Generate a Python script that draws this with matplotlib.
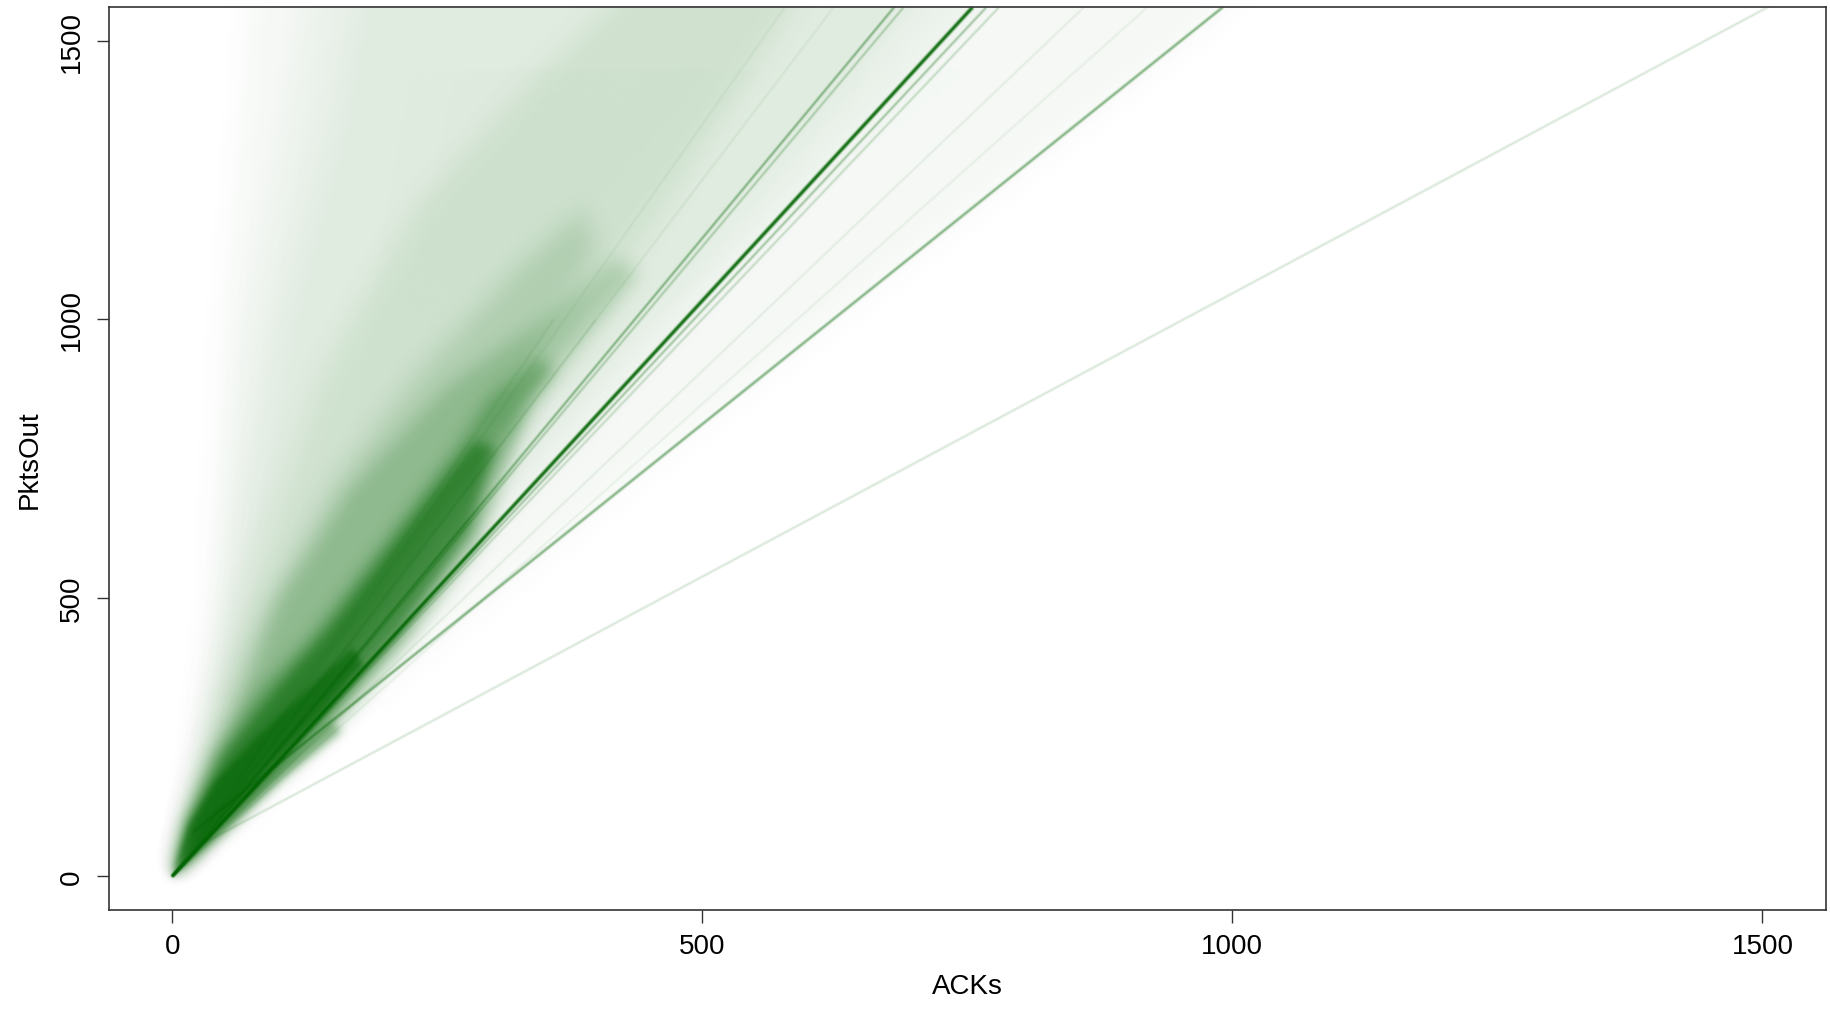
import numpy as np
import matplotlib
matplotlib.use("Agg")
import matplotlib.pyplot as plt
from matplotlib.patches import Polygon, Rectangle

plt.rcParams['font.family'] = ['Liberation Sans', 'DejaVu Sans']

# ---------------- data (ACKs, PktsOut) ----------------
# outlines of the point-cloud density levels, faint -> dense
lvl_a_x = [0, 19, 35, 48, 65, 76, 1092, 470, 150, 60, 0]
lvl_a_y = [0, 210, 500, 1000, 1365, 1700, 1700, 765, 260, 90, 0]

lvl_b_x = [0, 22, 45, 75, 110, 136, 825, 0]
lvl_b_y = [0, 210, 500, 1000, 1365, 1700, 1700, 0]

lvl_c_x = [0, 25, 57, 101, 150, 182, 763, 0]
lvl_c_y = [0, 210, 500, 1000, 1365, 1700, 1700, 0]

lvl_d_x = [0, 28, 70, 140, 230, 350, 490, 632, 430, 0]
lvl_d_y = [0, 200, 500, 900, 1200, 1450, 1700, 1700, 1100, 0]

lvl_e_x = [0, 30, 80, 150, 230, 330, 390, 400, 300, 0]
lvl_e_y = [0, 200, 450, 700, 900, 1100, 1200, 1120, 800, 0]

lvl_f_x = [0, 33, 60, 100, 170, 260, 350, 420, 440, 345, 260, 200, 120, 60, 0]
lvl_f_y = [0, 180, 300, 500, 700, 880, 1000, 1110, 1080, 860, 650, 480, 250, 110, 0]

lvl_g_x = [0, 12, 40, 80, 130, 200, 267, 300, 345, 360, 339, 321, 289, 223, 148, 80, 40, 0]
lvl_g_y = [0, 100, 220, 330, 430, 600, 765, 860, 930, 910, 855, 765, 600, 424, 256, 140, 70, 0]

lvl_h_x = [0, 15, 50, 100, 150, 210, 255, 285, 305, 280, 215, 150, 90, 45, 0]
lvl_h_y = [0, 100, 220, 340, 450, 600, 710, 780, 770, 620, 440, 290, 170, 85, 0]

lvl_i_x = [0, 15, 40, 80, 130, 170, 180, 140, 90, 45, 0]
lvl_i_y = [0, 90, 170, 250, 340, 410, 380, 290, 190, 95, 0]

lvl_j_x = [0, 40, 100, 150, 160, 100, 60, 0]
lvl_j_y = [0, 100, 200, 280, 260, 170, 100, 0]

# ridge lines of the scatter: start and end points
ray_x0 = [0, 0, 0, 0, 0, 20, 30, 0, 0, 0, 0, 0, 0]
ray_y0 = [0, 0, 0, 0, 0, 80, 60, 0, 0, 0, 0, 0, 0]
ray_x1 = [755, 768, 780, 681, 690, 991, 1505, 860, 920, 624, 578, 400, 360]
ray_y1 = [1560, 1560, 1560, 1560, 1560, 1560, 1560, 1560, 1560, 1560, 1560, 1000, 1000]

x_ticks = [0, 500, 1000, 1500]
y_ticks = [0, 500, 1000, 1500]

# ---------------- styles ----------------
green = '#006400'
green_rgb = (0.0, 100 / 255, 0.0)
level_alpha = [0.045, 0.045, 0.045, 0.08, 0.14, 0.20, 0.35, 0.55, 0.60, 0.35]
level_blur = [14, 14, 14, 14, 12, 9, 8, 6, 3, 4]
level_open_top = [True, True, True, True, False, False, False, False, False, False]
ray_lw = [2.4, 1.2, 1.0, 1.3, 1.0, 1.6, 1.0, 0.8, 0.8, 1.0, 1.0, 1.0, 1.0]
ray_alpha = [0.95, 0.45, 0.3, 0.55, 0.4, 0.55, 0.25, 0.15, 0.12, 0.10, 0.08, 0.12, 0.10]


def fft_blur(a, sigma):
    ny, nx = a.shape
    fy = np.fft.fftfreq(ny)[:, None]
    fx = np.fft.rfftfreq(nx)[None, :]
    g = np.exp(-2.0 * (np.pi * sigma) ** 2 * (fx ** 2 + fy ** 2))
    return np.fft.irfft2(np.fft.rfft2(a) * g, s=a.shape)


class BlurFilter:
    def __init__(self, sigma, rgb, open_top=False):
        self.sigma = sigma
        self.rgb = rgb
        self.open_top = open_top

    def __call__(self, im, dpi):
        pad = int(3 * self.sigma) + 2
        src = im[:, :, 3]
        a = np.pad(src, pad)
        if self.open_top:
            # region continues beyond the canvas top: extend the top row
            a[:pad, pad:-pad] = src[0][None, :]
        h = a.shape[0]
        a = np.pad(a, ((0, 2 * pad), (0, 2 * pad)))  # guard against wrap-around
        a = np.clip(fft_blur(a, self.sigma), 0, 1)[:h, :a.shape[1] - 2 * pad]
        out = np.zeros(a.shape + (4,))
        out[..., 0] = self.rgb[0]
        out[..., 1] = self.rgb[1]
        out[..., 2] = self.rgb[2]
        out[..., 3] = a
        return out, -pad, -pad


fig = plt.figure(figsize=(18.31, 10.12), dpi=100)
ax = fig.add_axes([0.0593, 0.100, 0.9380, 0.8919])

levels = [(lvl_a_x, lvl_a_y), (lvl_b_x, lvl_b_y), (lvl_c_x, lvl_c_y),
          (lvl_d_x, lvl_d_y), (lvl_e_x, lvl_e_y), (lvl_f_x, lvl_f_y),
          (lvl_g_x, lvl_g_y), (lvl_h_x, lvl_h_y), (lvl_i_x, lvl_i_y),
          (lvl_j_x, lvl_j_y)]
for (cx, cy), a, s, ot in zip(levels, level_alpha, level_blur, level_open_top):
    p = Polygon(list(zip(cx, cy)), closed=True, facecolor=green,
                edgecolor='none', alpha=a, zorder=1, clip_on=False)
    p.set_agg_filter(BlurFilter(s, green_rgb, ot))
    ax.add_patch(p)

for x0, y0, x1, y1, lw, a in zip(ray_x0, ray_y0, ray_x1, ray_y1, ray_lw, ray_alpha):
    ln, = ax.plot([x0, x1], [y0, y1], color=green, lw=lw, alpha=a,
                  solid_capstyle='butt', zorder=2)
    ln.set_agg_filter(BlurFilter(0.8, green_rgb))

ax.set_xlim(-60, 1560)
ax.set_ylim(-60, 1560)
ax.set_xticks(x_ticks)
ax.set_yticks(y_ticks)
ax.set_yticklabels([str(v) for v in y_ticks], rotation=90, va='center')
ax.tick_params(axis='both', length=9, width=1.0, labelsize=20, pad=8, color='#333333')
for s in ax.spines.values():
    s.set_linewidth(1.2)
    s.set_color('#333333')
    s.set_zorder(5)
ax.set_xlabel('ACKs', fontsize=20, labelpad=10)
ax.set_ylabel('PktsOut', fontsize=20, labelpad=12)

# keep the margin above the plot box clean
fig.patches.append(Rectangle((0, 0.9926), 1, 0.01, transform=fig.transFigure,
                             facecolor='white', edgecolor='none', zorder=3))

fig.savefig('out.png', dpi=100)
